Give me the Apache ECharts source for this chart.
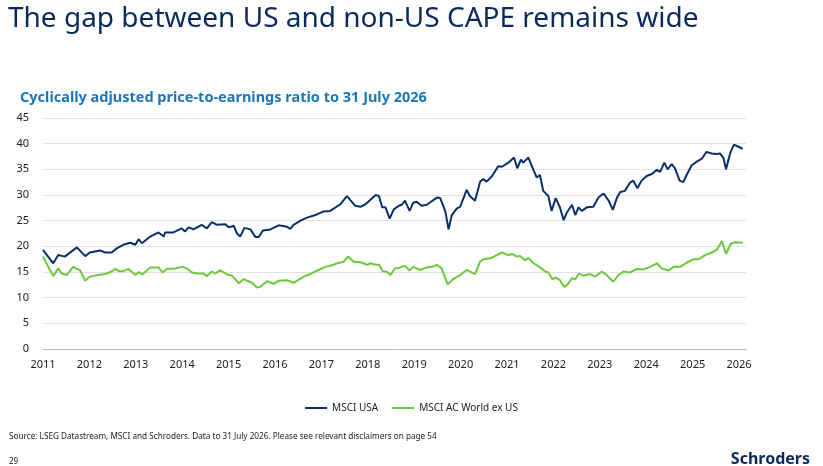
<!DOCTYPE html>
<html><head><meta charset="utf-8">
<script src="https://cdn.jsdelivr.net/npm/echarts@6/dist/echarts.min.js"></script>
<style>html,body{margin:0;padding:0;background:#fff}#c{width:823px;height:466px}</style>
</head><body><div id="c"></div>
<script>
const usaDates=[2011.00,2011.22,2011.33,2011.47,2011.73,2011.91,2012.01,2012.23,2012.34,2012.48,2012.59,2012.73,2012.88,2012.99,2013.06,2013.13,2013.31,2013.49,2013.60,2013.63,2013.81,2013.99,2014.06,2014.14,2014.24,2014.42,2014.53,2014.64,2014.75,2014.93,2015.00,2015.11,2015.18,2015.25,2015.34,2015.47,2015.58,2015.65,2015.74,2015.90,2016.08,2016.26,2016.33,2016.40,2016.55,2016.69,2016.87,2017.05,2017.19,2017.41,2017.55,2017.73,2017.84,2017.95,2018.17,2018.24,2018.31,2018.38,2018.47,2018.56,2018.67,2018.73,2018.80,2018.90,2018.98,2019.05,2019.16,2019.27,2019.49,2019.56,2019.67,2019.74,2019.81,2019.92,2019.99,2020.13,2020.20,2020.31,2020.42,2020.49,2020.56,2020.67,2020.81,2020.89,2021.03,2021.15,2021.22,2021.30,2021.35,2021.46,2021.57,2021.64,2021.71,2021.78,2021.89,2021.96,2022.05,2022.14,2022.22,2022.29,2022.40,2022.47,2022.54,2022.61,2022.72,2022.86,2022.97,2023.08,2023.19,2023.28,2023.37,2023.44,2023.54,2023.65,2023.72,2023.81,2023.90,2024.01,2024.12,2024.23,2024.30,2024.39,2024.46,2024.55,2024.62,2024.72,2024.80,2024.87,2024.98,2025.09,2025.20,2025.30,2025.41,2025.52,2025.59,2025.66,2025.72,2025.81,2025.89,2025.99,2026.08];
const usaValues=[19.3,16.7,18.3,18.0,19.8,18.1,18.8,19.2,18.8,18.8,19.6,20.3,20.7,20.3,21.4,20.6,21.9,22.7,21.9,22.7,22.7,23.5,22.9,23.7,23.3,24.2,23.5,24.7,24.2,24.3,23.7,24.0,22.5,21.9,23.6,23.3,21.8,21.8,23.1,23.3,24.1,23.8,23.4,24.2,25.0,25.6,26.1,26.8,26.9,28.2,29.8,27.9,27.7,28.2,30.0,29.8,27.6,27.6,25.4,27.2,27.9,28.1,28.9,26.9,28.5,28.7,27.9,28.1,29.5,29.4,26.8,23.3,26.1,27.4,27.7,31.0,29.8,28.9,32.6,33.1,32.6,33.6,35.6,35.5,36.3,37.3,35.2,36.9,36.3,37.3,34.9,33.4,33.9,30.8,29.8,26.9,29.4,27.6,25.1,26.6,28.1,26.1,27.6,26.9,27.6,27.7,29.5,30.3,28.9,27.1,29.5,30.6,30.8,32.4,32.8,31.3,32.8,33.7,34.1,34.9,34.5,36.3,35.0,36.0,35.2,32.8,32.5,33.9,35.8,36.5,37.1,38.4,38.1,38.0,38.1,37.3,35.0,38.2,39.8,39.4,39.0];
const acwxDates=[2011.00,2011.22,2011.33,2011.40,2011.51,2011.65,2011.80,2011.91,2012.01,2012.19,2012.34,2012.48,2012.55,2012.66,2012.77,2012.84,2012.99,2013.07,2013.14,2013.31,2013.49,2013.58,2013.67,2013.85,2013.99,2014.10,2014.21,2014.32,2014.46,2014.53,2014.64,2014.71,2014.82,2015.00,2015.07,2015.22,2015.32,2015.50,2015.61,2015.68,2015.83,2015.97,2016.08,2016.26,2016.40,2016.62,2016.76,2016.91,2017.09,2017.23,2017.34,2017.48,2017.57,2017.70,2017.84,2017.99,2018.06,2018.17,2018.24,2018.33,2018.40,2018.49,2018.58,2018.67,2018.73,2018.80,2018.90,2018.98,2019.13,2019.27,2019.38,2019.49,2019.59,2019.72,2019.84,2019.99,2020.13,2020.31,2020.42,2020.49,2020.64,2020.74,2020.89,2021.03,2021.12,2021.21,2021.28,2021.39,2021.46,2021.57,2021.71,2021.82,2021.89,2021.98,2022.05,2022.14,2022.23,2022.30,2022.40,2022.47,2022.55,2022.65,2022.79,2022.90,2023.04,2023.15,2023.29,2023.40,2023.51,2023.65,2023.80,2023.94,2024.08,2024.23,2024.33,2024.48,2024.59,2024.73,2024.87,2025.02,2025.13,2025.27,2025.41,2025.52,2025.63,2025.72,2025.82,2025.92,2026.08];
const acwxValues=[18.0,14.2,15.7,14.7,14.4,16.0,15.3,13.3,14.1,14.4,14.6,15.1,15.6,15.1,15.3,15.6,14.4,15.0,14.5,15.9,15.9,14.9,15.6,15.7,16.0,15.7,14.9,14.7,14.7,14.2,15.1,14.7,15.3,14.4,14.3,12.8,13.6,12.9,12.0,12.1,13.2,12.7,13.3,13.4,12.9,14.1,14.6,15.3,16.0,16.3,16.7,17.0,18.0,17.0,16.9,16.4,16.7,16.4,16.4,15.1,15.1,14.4,15.7,15.8,16.0,16.2,15.3,16.0,15.4,15.9,16.0,16.4,15.7,12.6,13.6,14.4,15.4,14.6,17.0,17.5,17.7,18.1,18.8,18.3,18.5,18.0,18.1,17.3,17.7,16.7,15.9,15.1,14.9,13.6,13.9,13.4,12.1,12.5,13.8,13.6,14.7,14.3,14.6,14.1,15.1,14.4,13.1,14.4,15.1,14.9,15.6,15.5,16.0,16.7,15.7,15.3,16.0,16.0,16.8,17.5,17.5,18.3,18.8,19.3,21.0,18.5,20.5,20.8,20.7];
const seriesNames=['MSCI USA','MSCI AC World ex US'];
const zip=(a,b)=>a.map((d,i)=>[d,b[i]]);
const chart=echarts.init(document.getElementById('c'));
const F='"Noto Sans", "Open Sans", sans-serif';
chart.setOption({
  animation:false,
  textStyle:{fontFamily:F},
  title:[
    {text:'The gap between US and non-US CAPE remains wide',left:3,top:0,textStyle:{fontSize:28,fontWeight:'normal',color:'#0b2a5b',fontFamily:F}},
    {text:'Cyclically adjusted price-to-earnings ratio to 31 July 2026',left:15,top:85,textStyle:{fontSize:14.5,fontWeight:'bold',color:'#1b76b8',fontFamily:F}},
    {text:'Source: LSEG Datastream, MSCI and Schroders. Data to 31 July 2026. Please see relevant disclaimers on page 54',left:4,top:428,textStyle:{fontSize:8.2,fontWeight:'normal',color:'#222',fontFamily:F}},
    {text:'29',left:4,top:453,textStyle:{fontSize:8,fontWeight:'normal',color:'#222',fontFamily:F}},
    {text:'Schroders',right:8,top:446,textStyle:{fontSize:16,fontWeight:'bold',color:'#0b2a5b',fontFamily:F}}
  ],
  legend:{bottom:48,left:'center',itemWidth:22,itemHeight:2,itemGap:14,icon:'rect',textStyle:{fontSize:10,color:'#222'},data:seriesNames},
  grid:{left:43,right:77,top:118,bottom:117},
  xAxis:{type:'value',min:2011,max:2026.15,interval:1,
    axisLine:{lineStyle:{color:'#bbb'}},axisTick:{show:false},splitLine:{show:false},
    axisLabel:{showMaxLabel:false,color:'#222',fontSize:11,margin:10,formatter:v=>String(Math.round(v))}},
  yAxis:{type:'value',min:0,max:45,interval:5,axisLine:{show:false},axisTick:{show:false},
    splitLine:{lineStyle:{color:'#e2e2e2'}},axisLabel:{color:'#222',fontSize:11,margin:14}},
  series:[
    {name:seriesNames[0],type:'line',data:zip(usaDates,usaValues),showSymbol:false,lineStyle:{width:2,color:'#0b2f6b'},itemStyle:{color:'#0b2f6b'}},
    {name:seriesNames[1],type:'line',data:zip(acwxDates,acwxValues),showSymbol:false,lineStyle:{width:2,color:'#6cc93c'},itemStyle:{color:'#6cc93c'}}
  ]
});
</script></body></html>
